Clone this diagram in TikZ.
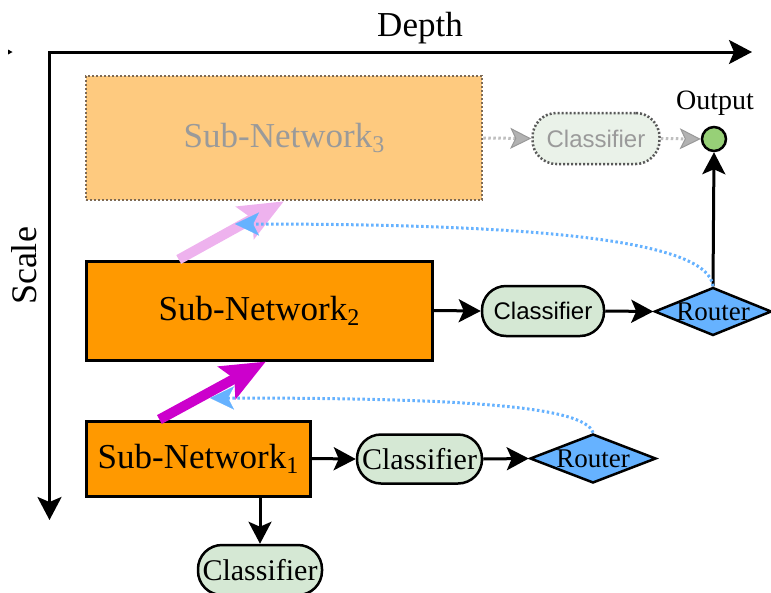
\documentclass[tikz,border=0pt]{standalone}
\usepackage{fontspec}
\setmainfont{Liberation Serif}
\newfontfamily\clssans{Liberation Sans}
\usetikzlibrary{arrows.meta,shapes.geometric,calc}

\definecolor{snorange}{HTML}{FF9900}
\definecolor{snpale}{HTML}{FECA7F}
\definecolor{snpaleborder}{HTML}{7D6A55}
\definecolor{clsgreen}{HTML}{D5E8D4}
\definecolor{clspale}{HTML}{EAF2E9}
\definecolor{routerblue}{HTML}{66B2FF}
\definecolor{outgreen}{HTML}{97D077}
\definecolor{upmagenta}{HTML}{CC00CC}
\definecolor{uppink}{HTML}{EEB2EE}
\definecolor{fadedtext}{HTML}{9A9A9A}

\newcommand\subnum[1]{\raisebox{-0.32ex}{\fontsize{24}{24}\selectfont #1}}

\tikzset{
  bigfont/.style={font=\fontsize{35}{40}\selectfont},
  subnet/.style={draw, line width=3pt, fill=snorange, rectangle, inner sep=0pt, bigfont},
  subnetpale/.style={draw=snpaleborder, line width=2.5pt, dash pattern=on 2pt off 2pt,
    fill=snpale, rectangle, inner sep=0pt, bigfont, text=fadedtext},
  clsbox/.style={draw, line width=2.5pt, fill=clsgreen, rectangle, rounded corners=24pt,
    minimum width=124pt, minimum height=50pt, inner sep=0pt},
  clsserif/.style={clsbox, font=\fontsize{30}{34}\selectfont},
  clssansbox/.style={clsbox, font=\clssans\fontsize{24}{28}\selectfont},
  clspalebox/.style={clssansbox, draw=black!65, dash pattern=on 2pt off 2pt,
    fill=clspale, text=fadedtext},
  routerbox/.style={draw, line width=2.5pt, fill=routerblue, diamond, inner sep=0pt},
  routertext/.style={font=\fontsize{27}{30}\selectfont},
  flow/.style={line width=3pt, -{Stealth[length=22pt, width=23pt, inset=5pt]}},
  fadedflow/.style={line width=3pt, draw=black!25, dash pattern=on 2.5pt off 2.5pt,
    -{Stealth[length=21pt, width=21pt, inset=5pt, fill=black!30, color=black!40, line width=1pt]}},
  upscale/.style={line width=10pt, -{Stealth[length=44pt, width=36pt, inset=8pt]}},
  feedback/.style={line width=3pt, draw=routerblue, dash pattern=on 2.5pt off 2.5pt,
    -{Stealth[length=24pt, width=23pt, inset=6pt, fill=routerblue, line width=0.1pt]}},
  axis/.style={line width=3pt, {Stealth[length=23pt, width=24pt, inset=5pt]}-{Stealth[length=23pt, width=24pt, inset=5pt]}},
}

\begin{document}
\begin{tikzpicture}[x=1pt, y=-1pt]
\useasboundingbox (0,0) rectangle (771,592);

% small stray tick mark at the left edge
\fill (8,49.5) -- (12.5,52) -- (8,54.5) -- cycle;

% axes
\coordinate (origin) at (49.5,52);
\coordinate (depthend) at (752,52);
\coordinate (scaleend) at (49.5,520);
\draw[axis] (scaleend) -- (origin) -- (depthend);
\node[bigfont] (depthlabel) at (420,28) {Depth};
\node[font=\fontsize{36}{40}\selectfont, rotate=90] (scalelabel) at (24,266) {Scale};

% sub-networks
\node[subnetpale, minimum width=396pt, minimum height=124pt] (sn3) at (284,138) {Sub-Network\subnum{3}};
\node[subnet, minimum width=346pt, minimum height=99pt] (sn2) at (259,310.5) {Sub-Network\subnum{2}};
\node[subnet, minimum width=224pt, minimum height=75pt] (sn1) at (198,458.5) {Sub-Network\subnum{1}};

% classifiers, routers and output
\node[clspalebox, minimum width=127pt, minimum height=51pt] (cls3) at (596,138.5) {Classifier};
\node[clssansbox, minimum width=122pt] (cls2) at (543,311) {Classifier};
\node[clsserif, minimum width=125pt, minimum height=49pt] (cls1) at (419.5,459) {Classifier};
\node[clsserif, minimum width=124pt] (cls0) at (260,570) {Classifier};

\node[routerbox, minimum width=117pt, minimum height=48pt] (rt2) at (713,311.5) {};
\node[routertext] (rt2text) at (rt2.center) {Router};
\node[routerbox, minimum width=126pt, minimum height=49pt] (rt1) at (593,458.5) {};
\node[routertext] (rt1text) at (rt1.center) {Router};

\node[draw, line width=2.5pt, fill=outgreen, circle, minimum size=24pt, inner sep=0pt] (out) at (714,139) {};
\node[font=\fontsize{28}{32}\selectfont] (outlabel) at (715,103) {Output};

% faded path of the largest sub-network
\draw[fadedflow] (sn3.east) -- (cls3.west);
\draw[fadedflow] (cls3.east) -- (out.west);

% main flows
\draw[flow] (sn2.east) -- (cls2.west);
\draw[flow] (cls2.east) -- (rt2.west);
\draw[flow] (rt2.north) -- (out.south);
\draw[flow] (sn1.east) -- (cls1.west);
\draw[flow] (cls1.east) -- (rt1.west);
\draw[flow] (sn1.south -| cls0.north) -- (cls0.north);

% scale-up arrows between sub-networks
\draw[upscale, draw=upmagenta, fill=upmagenta]
  ($(sn1.north west)!0.33!(sn1.north east)$) -- ($(sn2.south west)!0.52!(sn2.south east)$);
\draw[upscale, draw=uppink, fill=uppink]
  ($(sn2.north west)!0.27!(sn2.north east)$) -- ($(sn3.south west)!0.5!(sn3.south east)$);

% router feedback
\draw[feedback] (rt1.north) .. controls (585,405) and (450,398) .. (210,398);
\draw[feedback] (rt2.north) .. controls (708,238) and (520,224) .. (235,224);
\end{tikzpicture}
\end{document}
